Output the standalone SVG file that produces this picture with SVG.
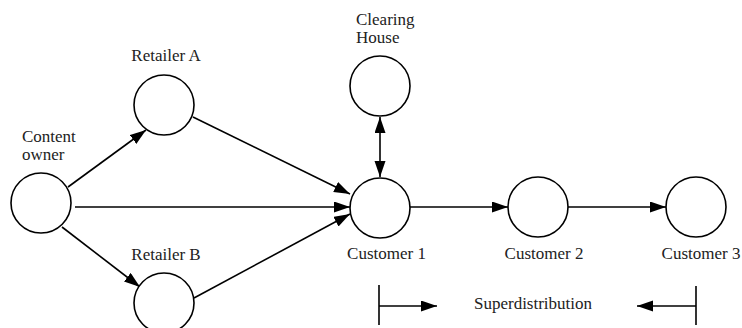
<svg xmlns="http://www.w3.org/2000/svg" width="742" height="328" viewBox="0 0 742 328">
  <defs>
    <marker id="arrow" markerUnits="userSpaceOnUse" markerWidth="17" markerHeight="12" refX="16" refY="5.5" orient="auto-start-reverse">
      <path d="M0,0 L16,5.5 L0,11 Z" fill="#000"/>
    </marker>
    <style>
      .node { fill: #fff; stroke: #000; stroke-width: 1.6; }
      .edge { stroke: #000; stroke-width: 1.6; fill: none; }
      .label { font-family: "Liberation Serif", "Times New Roman", serif; font-size: 17px; fill: #222; }
      .mid { text-anchor: middle; }
    </style>
  </defs>

  <!-- connectors -->
  <g id="connectors">
    <line class="edge" x1="68" y1="187" x2="146" y2="130" marker-end="url(#arrow)"/>
    <line class="edge" x1="62" y1="227" x2="140" y2="287" marker-end="url(#arrow)"/>
    <line class="edge" x1="75" y1="207" x2="350" y2="207" marker-end="url(#arrow)"/>
    <line class="edge" x1="193" y1="117" x2="350" y2="194" marker-end="url(#arrow)"/>
    <line class="edge" x1="194" y1="298" x2="350" y2="214" marker-end="url(#arrow)"/>
    <line class="edge" x1="380" y1="117" x2="380" y2="177" marker-start="url(#arrow)" marker-end="url(#arrow)"/>
    <line class="edge" x1="410" y1="207" x2="508" y2="207" marker-end="url(#arrow)"/>
    <line class="edge" x1="568" y1="207" x2="666" y2="207" marker-end="url(#arrow)"/>
  </g>

  <!-- nodes -->
  <g id="content-owner">
    <circle class="node" cx="41" cy="203" r="30"/>
    <text class="label" x="22" y="142">Content</text>
    <text class="label" x="22" y="160">owner</text>
  </g>
  <g id="retailer-a">
    <circle class="node" cx="164" cy="105" r="30"/>
    <text class="label mid" x="166" y="61">Retailer A</text>
  </g>
  <g id="retailer-b">
    <circle class="node" cx="164" cy="303" r="30"/>
    <text class="label mid" x="166" y="260">Retailer B</text>
  </g>
  <g id="clearing-house">
    <circle class="node" cx="380" cy="86" r="30"/>
    <text class="label" x="356" y="25">Clearing</text>
    <text class="label" x="356" y="43">House</text>
  </g>
  <g id="customer-1">
    <circle class="node" cx="380" cy="208" r="30"/>
    <text class="label mid" x="386.5" y="259">Customer 1</text>
  </g>
  <g id="customer-2">
    <circle class="node" cx="538" cy="207" r="30"/>
    <text class="label mid" x="544" y="259">Customer 2</text>
  </g>
  <g id="customer-3">
    <circle class="node" cx="696" cy="207" r="30"/>
    <text class="label mid" x="701" y="259">Customer 3</text>
  </g>

  <!-- superdistribution span -->
  <g id="superdistribution">
    <line class="edge" x1="379" y1="285" x2="379" y2="325"/>
    <line class="edge" x1="379" y1="306" x2="437" y2="306" marker-end="url(#arrow)"/>
    <line class="edge" x1="696" y1="286" x2="696" y2="325"/>
    <line class="edge" x1="696" y1="306" x2="637" y2="306" marker-end="url(#arrow)"/>
    <text class="label mid" x="533" y="309">Superdistribution</text>
  </g>
</svg>
